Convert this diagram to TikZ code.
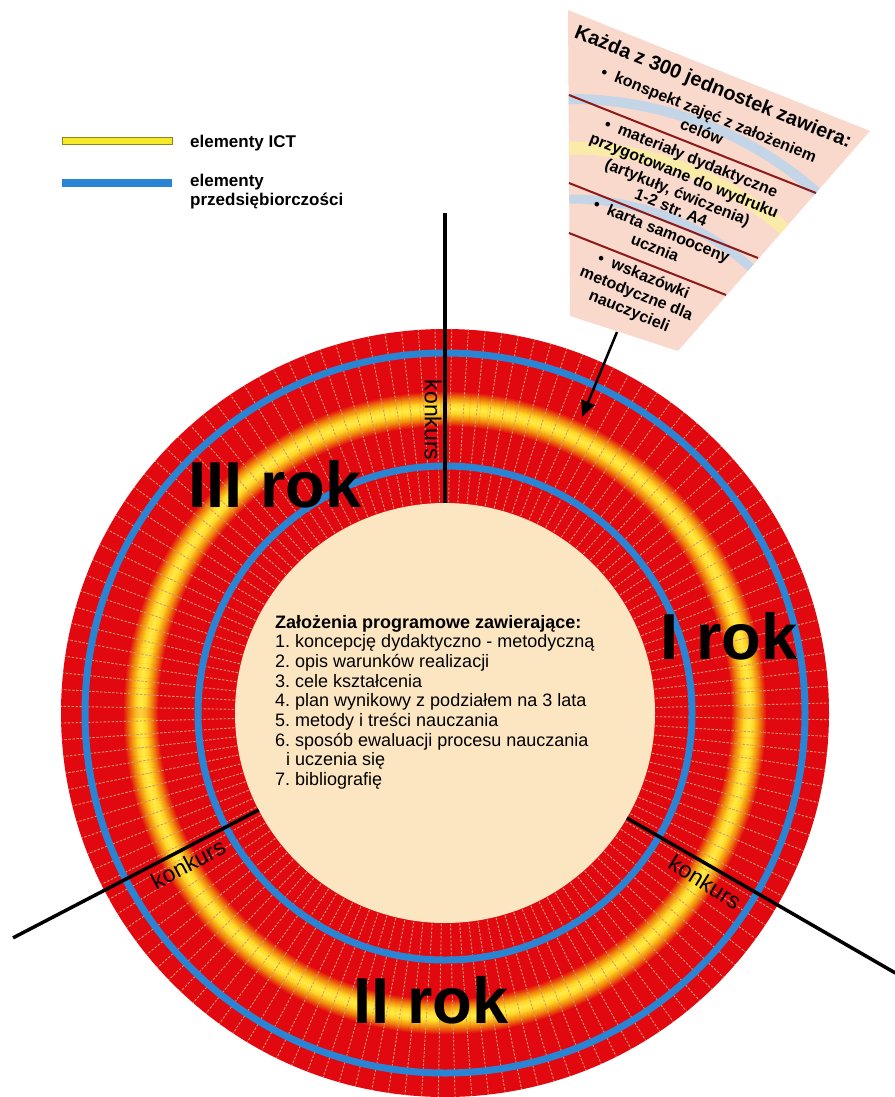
\documentclass[tikz,border=0pt]{standalone}
\usepackage{fontspec}
\setmainfont{Liberation Sans}
\usetikzlibrary{arrows.meta,calc}
\definecolor{ringred}{RGB}{226,8,16}
\definecolor{ringorange}{RGB}{240,135,12}
\definecolor{ringyellow}{RGB}{255,215,40}
\definecolor{ringyellowc}{RGB}{255,238,75}
\definecolor{ringblue}{RGB}{42,132,212}
\definecolor{cream}{RGB}{252,229,193}
\definecolor{spoke}{RGB}{214,150,112}
\definecolor{wedgefill}{RGB}{249,217,203}
\definecolor{wedgeline}{RGB}{140,26,26}
\definecolor{paleblue}{RGB}{196,213,232}
\definecolor{paleyellow}{RGB}{250,236,168}
\definecolor{legyellow}{RGB}{245,232,40}
\definecolor{legyellowedge}{RGB}{140,130,40}
\begin{document}
\frenchspacing
\begin{tikzpicture}[x=1pt,y=-1pt,
  spokeline/.style={draw=spoke, line width=0.9pt, dash pattern=on 2.5pt off 1.5pt},
  bandline/.style={line width=1.4pt},
  bluering/.style={draw=ringblue, line width=7pt},
  konkursline/.style={draw=black, line width=3.5pt},
  konkurstext/.style={inner sep=0pt, font=\fontsize{23}{26}\selectfont},
  year/.style={inner sep=0pt, anchor=base west, font=\fontsize{65}{70}\selectfont\bfseries},
  ctext/.style={inner sep=0pt, anchor=base west, font=\fontsize{18}{20}\selectfont},
  legtext/.style={inner sep=0pt, anchor=base west, font=\fontsize{17}{19}\selectfont\bfseries},
  wtitle/.style={inner sep=0pt, rotate=-22, text height=14.5pt, text depth=4pt, font=\fontsize{20}{22}\selectfont\bfseries},
  wtext/.style={inner sep=0pt, rotate=-22, text height=12pt, text depth=3.5pt, font=\fontsize{16}{19}\selectfont\bfseries},
  sepline/.style={draw=wedgeline, line width=2pt},
  arrowline/.style={draw=black, line width=2.5pt, -{Triangle[length=16pt,width=14pt]}}
]
\useasboundingbox (0,0) rectangle (894,1097);
% ---------- ring ----------
\coordinate (C) at (445,713);
\fill[ringred] (C) circle[radius=384];
% yellow / orange band
\foreach \d in {0,...,5}{
  \pgfmathsetmacro{\p}{100-\d*20}
  \draw[bandline, draw=ringyellowc!\p!ringyellow] (C) circle[radius=304+\d] (C) circle[radius=304-\d];
}
\foreach \d in {6,...,11}{
  \pgfmathsetmacro{\p}{100-(\d-5)*16.6}
  \draw[bandline, draw=ringyellow!\p!ringorange] (C) circle[radius=304+\d] (C) circle[radius=304-\d];
}
\foreach \d in {12,...,18}{
  \pgfmathsetmacro{\p}{100-(\d-11)*14.2}
  \draw[bandline, draw=ringorange!\p!ringred] (C) circle[radius=304+\d] (C) circle[radius=304-\d];
}
\foreach \i in {0,...,143}{
  \pgfmathsetmacro{\ang}{\i*2.5+1}
  \draw[spokeline] ($(C)+(\ang:211)$) -- ($(C)+(\ang:384)$);
}
\draw[bluering] (C) circle[radius=360];
\draw[bluering] (C) circle[radius=247];
\fill[cream] (C) circle[radius=210];
% ---------- konkurs lines ----------
\coordinate (k1a) at ($(C)+(-90:210)$);
\coordinate (k1b) at ($(C)+(-90:500)$);
\coordinate (k2a) at ($(C)+(152.5:210)$);
\coordinate (k2b) at ($(C)+(152.5:487)$);
\coordinate (k3a) at ($(C)+(30:210)$);
\coordinate (k3b) at ($(C)+(30:520)$);
\draw[konkursline] (k1a) -- (k1b);
\draw[konkursline] (k2a) -- (k2b);
\draw[konkursline] (k3a) -- (k3b);
\node[konkurstext, rotate=-90] (kt1) at (433,420) {konkurs};
\node[konkurstext, rotate=28] (kt2) at (188,864) {konkurs};
\node[konkurstext, rotate=-32] (kt3) at (705,882) {konkurs};
% ---------- year labels ----------
\node[year] (y3) at (188,507) {III rok};
\node[year] (y1) at (660,659) {I rok};
\node[year] (y2) at (353,1023) {II rok};
% ---------- centre text ----------
\node[ctext, font=\fontsize{18}{20}\selectfont\bfseries] (ct0) at (275,628) {Założenia programowe zawierające:};
\node[ctext] (ct1) at (275,647.7) {1. koncepcję dydaktyczno - metodyczną};
\node[ctext] (ct2) at (275,667.4) {2. opis warunków realizacji};
\node[ctext] (ct3) at (275,687.1) {3. cele kształcenia};
\node[ctext] (ct4) at (275,706.8) {4. plan wynikowy z podziałem na 3 lata};
\node[ctext] (ct5) at (275,726.5) {5. metody i treści nauczania};
\node[ctext] (ct6) at (275,746.2) {6. sposób ewaluacji procesu nauczania};
\node[ctext] (ct6b) at (286,765.9) {i uczenia się};
\node[ctext] (ct7) at (275,785.6) {7. bibliografię};
% ---------- legend ----------
\filldraw[fill=legyellow, draw=legyellowedge, line width=0.8pt] (62,137) rectangle (172,144);
\fill[ringblue] (62,179) rectangle (172,187);
\node[legtext] (l1) at (190,147) {elementy ICT};
\node[legtext] (l2) at (190,186.5) {elementy};
\node[legtext] (l3) at (190,205) {przedsiębiorczości};
% ---------- wedge ----------
\fill[wedgefill] (568,10) -- (870,131) -- (678,351) -- (570,316) -- cycle;
\begin{scope}
  \clip (568,10) -- (870,131) -- (678,351) -- (570,316) -- cycle;
  \coordinate (A) at (570,472);
  \draw[paleblue, line width=10pt] (A) circle[radius=373];
  \draw[paleyellow, line width=13pt] (A) circle[radius=324];
  \draw[paleblue, line width=9pt] (A) circle[radius=273];
\end{scope}
\draw[sepline] (569,95) -- (816,193);
\draw[sepline] (569,183) -- (758,258);
\draw[sepline] (569,233) -- (726,295);
\begin{scope}[shift={(713,88)}, rotate=-22]
  \node[wtitle] (wt) at (0,0) {Każda z 300 jednostek zawiera:};
  \node[wtext] (w11) at (6,27) {\textbullet\ \ konspekt zajęć z założeniem};
  \node[wtext] (w12) at (6,46) {celów};
  \node[wtext] (w21) at (6,74) {\textbullet\ \ materiały dydaktyczne};
  \node[wtext] (w22) at (6,93) {przygotowane do wydruku};
  \node[wtext] (w23) at (6,111) {(artykuły, ćwiczenia)};
  \node[wtext] (w24) at (6,128) {1-2 str. A4};
  \node[wtext] (w31) at (6,153) {\textbullet\ \ karta samooceny};
  \node[wtext] (w32) at (6,171) {ucznia};
  \node[wtext] (w41) at (6,201) {\textbullet\ \ wskazówki};
  \node[wtext] (w42) at (6,220) {metodyczne dla};
  \node[wtext] (w43) at (6,239) {nauczycieli};
\end{scope}
\coordinate (wb) at (617,332);
\coordinate (tip) at (582,417);
\draw[arrowline] (wb) -- (tip);
\end{tikzpicture}
\end{document}
